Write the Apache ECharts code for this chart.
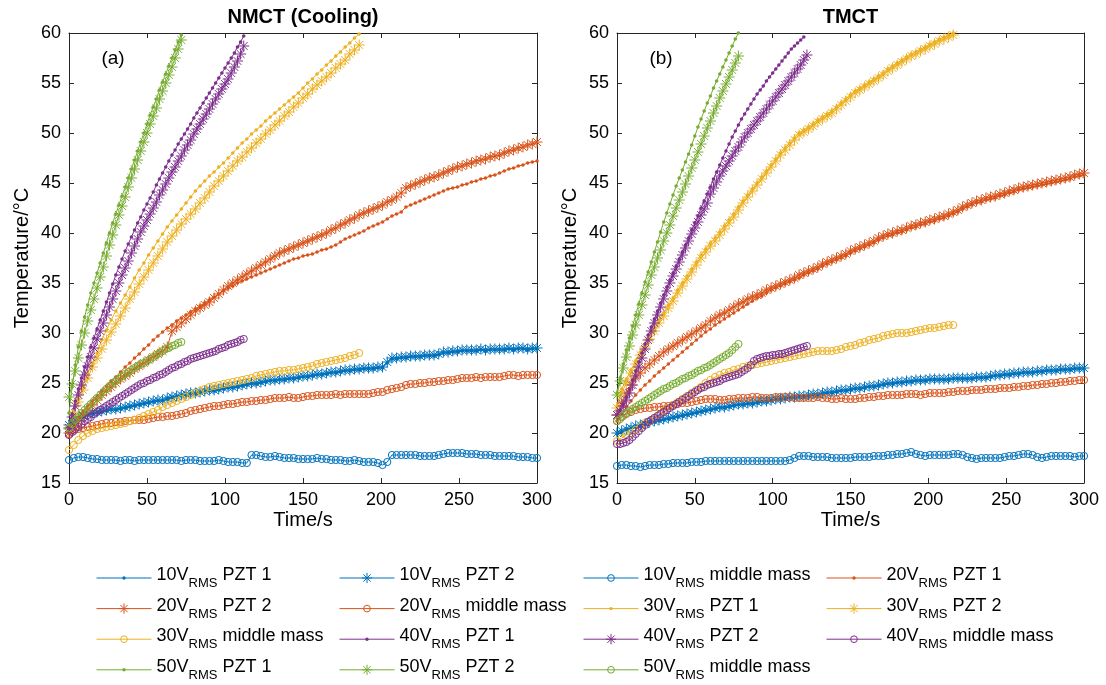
<!DOCTYPE html>
<html>
<head>
<meta charset="utf-8">
<title>Temperature rise of PZT and middle mass</title>
<script src="https://cdn.jsdelivr.net/npm/echarts@6/dist/echarts.min.js"></script>
<style>
  html, body { margin: 0; padding: 0; background: #fff; }
  #chart { width: 1106px; height: 685px; }
</style>
</head>
<body>
<div id="chart"></div>
<script>
// Sampling instants (s)
const T3 = [0,3,6,9,12,15,18,21,24,27,
  30,33,36,39,42,45,48,51,54,57,
  60,63,66,69,72,75,78,81,84,87,
  90,93,96,99,102,105,108,111,114,117,
  120,123,126,129,132,135,138,141,144,147,
  150,153,156,159,162,165,168,171,174,177,
  180,183,186,189,192,195,198,201,204,207,
  210,213,216,219,222,225,228,231,234,237,
  240,243,246,249,252,255,258,261,264,267,
  270,273,276,279,282,285,288,291,294,297,
  300];
const T2 = [0,2,4,6,8,10,12,14,16,18,
  20,22,24,26,28,30,32,34,36,38,
  40,42,44,46,48,50,52,54,56,58,
  60,62,64,66,68,70,72,74,76,78,
  80,82,84,86,88,90,92,94,96,98,
  100,102,104,106,108,110,112,114,116,118,
  120,122];

// ---------- (a) NMCT (Cooling), temperature in °C ----------
const nm10p1 = [20.6,21.0,21.4,21.6,21.8,21.9,22.0,22.1,22.2,22.3,
  22.3,22.4,22.5,22.6,22.7,22.8,22.9,23.0,23.1,23.2,
  23.2,23.4,23.5,23.6,23.7,23.8,23.9,23.9,24.0,24.1,
  24.2,24.2,24.3,24.4,24.5,24.5,24.6,24.7,24.8,24.9,
  24.9,25.0,25.1,25.2,25.2,25.3,25.3,25.4,25.4,25.5,
  25.6,25.6,25.7,25.8,25.8,25.9,26.0,26.0,26.1,26.2,
  26.2,26.3,26.3,26.4,26.4,26.4,26.5,26.5,27.0,27.4,
  27.4,27.5,27.5,27.6,27.6,27.6,27.7,27.7,27.7,27.8,
  28.0,28.0,28.1,28.1,28.2,28.2,28.2,28.2,28.3,28.2,
  28.3,28.3,28.3,28.3,28.4,28.3,28.4,28.4,28.3,28.4,
  28.4];
const nm10p2 = [20.8,21.2,21.5,21.7,21.9,22.0,22.1,22.2,22.3,22.4,
  22.4,22.5,22.6,22.7,22.8,22.9,23.0,23.1,23.2,23.3,
  23.3,23.5,23.6,23.7,23.8,23.9,24.0,24.0,24.1,24.2,
  24.3,24.3,24.4,24.5,24.6,24.6,24.7,24.8,24.9,25.0,
  25.0,25.1,25.2,25.3,25.3,25.4,25.4,25.5,25.5,25.6,
  25.7,25.7,25.8,25.9,25.9,26.0,26.1,26.1,26.2,26.3,
  26.3,26.4,26.4,26.5,26.5,26.5,26.6,26.6,27.1,27.5,
  27.5,27.6,27.6,27.7,27.7,27.7,27.8,27.8,27.8,27.9,
  28.1,28.1,28.2,28.2,28.3,28.3,28.3,28.3,28.4,28.3,
  28.4,28.4,28.4,28.4,28.5,28.4,28.5,28.5,28.4,28.5,
  28.5];
const nm10mm = [17.3,17.5,17.6,17.6,17.5,17.4,17.4,17.3,17.3,17.3,
  17.3,17.2,17.3,17.3,17.2,17.3,17.3,17.3,17.3,17.3,
  17.3,17.3,17.3,17.3,17.2,17.3,17.3,17.3,17.2,17.2,
  17.2,17.2,17.3,17.2,17.1,17.1,17.1,17.0,17.0,17.8,
  17.8,17.7,17.6,17.6,17.7,17.6,17.5,17.5,17.5,17.4,
  17.4,17.4,17.4,17.5,17.4,17.4,17.3,17.3,17.3,17.2,
  17.2,17.3,17.2,17.1,17.1,17.1,17.0,16.8,17.1,17.8,
  17.8,17.8,17.8,17.8,17.8,17.7,17.7,17.7,17.7,17.8,
  17.9,18.0,18.0,18.0,18.0,17.9,17.9,17.9,17.8,17.8,
  17.8,17.7,17.7,17.7,17.7,17.7,17.6,17.6,17.6,17.5,
  17.5];
const nm20p1 = [20.0,20.8,21.5,22.1,22.7,23.2,23.7,24.2,24.7,25.2,
  25.6,26.1,26.6,27.0,27.5,27.9,28.4,28.8,29.3,29.7,
  30.1,30.5,30.8,31.2,31.5,31.8,32.1,32.4,32.7,33.0,
  33.3,33.6,33.9,34.2,34.5,34.7,35.0,35.2,35.4,35.6,
  35.8,36.0,36.2,36.4,36.6,36.8,37.0,37.2,37.4,37.5,
  37.7,37.8,37.9,38.1,38.3,38.4,38.6,38.8,39.1,39.4,
  39.6,39.8,40.0,40.2,40.5,40.7,40.9,41.1,41.4,41.7,
  41.9,42.1,42.6,42.8,43.0,43.2,43.4,43.6,43.8,44.0,
  44.2,44.4,44.5,44.6,44.8,44.9,45.1,45.2,45.4,45.5,
  45.7,45.8,46.0,46.2,46.4,46.5,46.7,46.8,47.0,47.1,
  47.2];
const nm20p2 = [20.0,20.6,21.2,21.8,22.3,22.8,23.3,23.8,24.2,24.6,
  25.0,25.4,25.7,26.0,26.4,26.7,27.0,27.3,27.6,27.9,
  28.2,28.6,30.2,30.6,31.0,31.4,31.8,32.2,32.5,32.8,
  33.1,33.5,33.9,34.3,34.7,35.0,35.3,35.6,35.9,36.2,
  36.5,36.8,37.1,37.4,37.7,38.0,38.2,38.4,38.6,38.8,
  39.0,39.2,39.4,39.6,39.8,40.0,40.3,40.5,40.8,41.0,
  41.3,41.5,41.8,42.0,42.2,42.4,42.6,42.8,43.1,43.3,
  43.6,44.0,44.5,44.7,44.9,45.1,45.3,45.5,45.6,45.8,
  46.0,46.2,46.4,46.6,46.7,46.9,47.0,47.2,47.3,47.4,
  47.6,47.7,47.8,48.0,48.2,48.3,48.5,48.6,48.8,48.9,
  49.1];
const nm20mm = [19.9,20.2,20.4,20.5,20.6,20.7,20.8,20.9,21.0,21.0,
  21.1,21.1,21.2,21.2,21.3,21.3,21.3,21.4,21.5,21.6,
  21.6,21.7,21.7,21.8,21.9,22.0,22.2,22.3,22.4,22.5,
  22.6,22.7,22.7,22.8,22.9,22.9,23.0,23.1,23.1,23.2,
  23.2,23.3,23.3,23.4,23.5,23.5,23.5,23.6,23.5,23.5,
  23.6,23.7,23.7,23.8,23.8,23.8,23.8,23.9,23.8,23.9,
  23.9,23.9,23.9,23.9,23.9,24.0,24.1,24.1,24.3,24.4,
  24.5,24.6,24.8,24.9,24.9,25.0,25.0,25.1,25.1,25.2,
  25.2,25.3,25.3,25.4,25.5,25.5,25.5,25.6,25.5,25.6,
  25.6,25.6,25.6,25.7,25.8,25.8,25.7,25.8,25.8,25.8,
  25.8];
const nm30p1 = [20.6,22.1,23.4,24.7,26.0,27.0,28.0,29.3,30.3,31.3,
  32.2,33.0,33.8,34.6,35.5,36.3,37.0,37.8,38.5,39.2,
  39.9,40.6,41.2,41.8,42.4,43.0,43.6,44.2,44.7,45.2,
  45.7,46.1,46.6,47.0,47.5,48.0,48.5,49.0,49.4,49.9,
  50.3,50.7,51.2,51.6,52.0,52.4,52.8,53.2,53.6,54.0,
  54.5,55.0,55.4,55.9,56.3,56.8,57.2,57.7,58.1,58.6,
  59.0,59.5,59.9];
const nm30p2 = [20.4,21.8,23.1,24.3,25.5,26.6,27.5,28.4,29.3,30.1,
  30.9,31.7,32.5,33.4,34.1,34.9,35.6,36.3,37.0,37.7,
  38.4,39.1,39.7,40.3,40.9,41.4,41.9,42.4,43.0,43.5,
  44.1,44.7,45.2,45.7,46.2,46.7,47.2,47.6,48.1,48.5,
  49.0,49.4,49.9,50.3,50.8,51.2,51.7,52.1,52.6,53.0,
  53.5,53.9,54.4,54.8,55.2,55.6,56.0,56.5,56.9,57.3,
  57.9,58.3,58.8];
const nm30mm = [18.3,18.8,19.3,19.7,20.0,20.2,20.4,20.5,20.6,20.7,
  20.8,20.9,21.0,21.2,21.3,21.5,21.7,21.9,22.1,22.3,
  22.6,22.8,23.0,23.2,23.4,23.6,23.8,24.0,24.2,24.4,
  24.6,24.7,24.8,24.9,25.0,25.1,25.2,25.3,25.4,25.5,
  25.7,25.8,25.9,26.0,26.1,26.2,26.2,26.3,26.3,26.4,
  26.5,26.6,26.7,26.9,27.0,27.1,27.2,27.3,27.4,27.5,
  27.7,27.8,28.0];
const nm40p1 = [20.5,21.9,23.2,24.4,25.5,26.6,27.6,28.6,29.5,30.4,
  31.3,32.2,33.1,34.0,34.9,35.8,36.6,37.4,38.2,38.9,
  39.6,40.3,41.0,41.6,42.3,42.9,43.5,44.1,44.8,45.4,
  46.0,46.6,47.2,47.8,48.3,48.9,49.4,49.9,50.4,50.9,
  51.5,52.0,52.5,53.0,53.5,54.0,54.5,55.0,55.5,56.0,
  56.5,57.0,57.5,58.0,58.6,59.1,59.7];
const nm40p2 = [20.5,21.6,22.7,23.8,24.8,25.8,26.7,27.6,28.5,29.4,
  30.2,31.0,31.8,32.6,33.4,34.2,35.0,35.8,36.5,37.2,
  38.0,38.7,39.4,40.1,40.7,41.3,41.9,42.5,43.1,43.8,
  44.3,44.9,45.5,46.1,46.6,47.2,47.7,48.3,48.8,49.3,
  49.9,50.4,50.9,51.4,51.9,52.4,52.9,53.4,53.9,54.4,
  54.9,55.4,56.0,56.6,57.2,57.9,58.7];
const nm40mm = [19.8,20.1,20.4,20.6,20.9,21.2,21.4,21.6,21.9,22.1,
  22.3,22.5,22.7,22.9,23.1,23.3,23.5,23.7,23.9,24.1,
  24.3,24.5,24.7,24.9,25.0,25.2,25.3,25.5,25.6,25.8,
  25.9,26.1,26.3,26.5,26.6,26.8,26.9,27.1,27.2,27.4,
  27.5,27.6,27.7,27.8,27.9,28.0,28.1,28.2,28.4,28.5,
  28.6,28.8,28.9,29.0,29.1,29.3,29.4];
const nm50p1 = [22.0,24.6,26.8,28.6,30.2,31.6,32.8,34.0,35.0,36.0,
  37.0,38.0,39.0,40.0,41.0,41.9,42.8,43.7,44.6,45.5,
  46.4,47.3,48.2,49.1,50.0,50.9,51.8,52.6,53.4,54.3,
  55.1,55.9,56.7,57.5,58.3,59.1,59.8];
const nm50p2 = [23.6,24.9,26.2,27.5,28.8,30.0,31.2,32.3,33.4,34.5,
  35.6,36.6,37.7,38.8,39.8,40.8,41.8,42.7,43.6,44.6,
  45.5,46.4,47.3,48.2,49.1,50.0,50.9,51.7,52.5,53.4,
  54.2,55.0,55.8,56.6,57.5,58.4,59.3];
const nm50mm = [20.5,20.9,21.3,21.6,22.0,22.3,22.6,22.9,23.2,23.5,
  23.8,24.1,24.4,24.7,25.0,25.2,25.4,25.7,25.9,26.1,
  26.3,26.5,26.7,26.9,27.0,27.2,27.4,27.6,27.8,28.0,
  28.2,28.4,28.5,28.7,28.8,29.0,29.1];

// ---------- (b) TMCT, temperature in °C ----------
const tm10p1 = [19.9,20.1,20.3,20.4,20.6,20.7,20.8,21.0,21.1,21.2,
  21.3,21.4,21.5,21.6,21.7,21.8,21.9,22.0,22.1,22.2,
  22.3,22.4,22.5,22.5,22.6,22.7,22.8,22.8,22.9,22.9,
  23.0,23.1,23.1,23.2,23.3,23.3,23.4,23.5,23.5,23.6,
  23.6,23.7,23.8,23.8,23.9,24.0,24.0,24.1,24.2,24.2,
  24.3,24.4,24.4,24.5,24.6,24.6,24.7,24.8,24.9,24.9,
  25.0,25.0,25.1,25.1,25.2,25.2,25.2,25.3,25.3,25.3,
  25.3,25.3,25.4,25.4,25.4,25.4,25.4,25.5,25.5,25.5,
  25.6,25.7,25.7,25.8,25.8,25.9,25.9,26.0,26.0,26.0,
  26.1,26.1,26.2,26.2,26.2,26.3,26.3,26.3,26.4,26.4,
  26.4];
const tm10p2 = [20.0,20.2,20.4,20.5,20.7,20.8,20.9,21.1,21.2,21.3,
  21.4,21.5,21.6,21.7,21.8,21.9,22.0,22.1,22.2,22.3,
  22.4,22.5,22.6,22.6,22.7,22.8,22.9,22.9,23.0,23.0,
  23.1,23.2,23.2,23.3,23.4,23.4,23.5,23.6,23.6,23.7,
  23.7,23.8,23.9,23.9,24.0,24.1,24.1,24.2,24.3,24.3,
  24.4,24.5,24.5,24.6,24.7,24.7,24.8,24.9,25.0,25.0,
  25.1,25.1,25.2,25.2,25.3,25.3,25.3,25.4,25.4,25.4,
  25.4,25.4,25.5,25.5,25.5,25.5,25.5,25.6,25.6,25.6,
  25.7,25.8,25.8,25.9,25.9,26.0,26.0,26.1,26.1,26.1,
  26.2,26.2,26.3,26.3,26.3,26.4,26.4,26.4,26.5,26.5,
  26.5];
const tm10mm = [16.7,16.8,16.8,16.7,16.7,16.6,16.7,16.8,16.8,16.8,
  16.9,16.9,17.0,17.0,17.0,17.0,17.1,17.1,17.1,17.2,
  17.2,17.2,17.2,17.2,17.2,17.2,17.2,17.2,17.2,17.2,
  17.2,17.2,17.2,17.2,17.2,17.2,17.2,17.3,17.5,17.7,
  17.7,17.7,17.6,17.6,17.6,17.6,17.5,17.5,17.5,17.5,
  17.5,17.6,17.6,17.6,17.6,17.7,17.7,17.7,17.8,17.8,
  17.9,17.9,18.0,18.1,17.9,17.8,17.7,17.8,17.8,17.8,
  17.8,17.8,17.9,17.9,17.8,17.6,17.5,17.4,17.5,17.5,
  17.5,17.5,17.5,17.6,17.7,17.7,17.8,17.9,17.9,17.8,
  17.6,17.5,17.6,17.7,17.7,17.7,17.7,17.7,17.6,17.7,
  17.7];
const tm20p1 = [21.2,21.9,22.6,23.2,23.8,24.3,24.8,25.2,25.7,26.1,
  26.5,26.9,27.3,27.7,28.1,28.5,28.9,29.3,29.7,30.1,
  30.4,30.8,31.1,31.4,31.7,32.0,32.3,32.6,32.9,33.2,
  33.5,33.7,34.0,34.3,34.5,34.7,34.9,35.1,35.3,35.5,
  35.8,36.0,36.2,36.4,36.7,36.9,37.1,37.3,37.5,37.7,
  38.0,38.2,38.4,38.6,38.8,39.0,39.3,39.5,39.7,39.8,
  40.0,40.1,40.3,40.5,40.6,40.8,40.9,41.1,41.2,41.4,
  41.5,41.7,41.9,42.1,42.4,42.6,42.8,43.0,43.1,43.3,
  43.4,43.5,43.7,43.8,44.0,44.1,44.3,44.4,44.5,44.6,
  44.7,44.8,44.9,45.0,45.1,45.2,45.3,45.4,45.6,45.7,
  45.8];
const tm20p2 = [21.8,23.0,24.0,24.8,25.5,26.0,26.5,26.9,27.3,27.7,
  28.1,28.4,28.7,29.0,29.3,29.6,29.9,30.2,30.5,30.8,
  31.2,31.5,31.8,32.0,32.3,32.6,32.9,33.1,33.4,33.6,
  33.8,34.0,34.3,34.5,34.7,34.9,35.1,35.3,35.5,35.8,
  36.0,36.2,36.4,36.6,36.9,37.1,37.3,37.5,37.7,37.9,
  38.2,38.4,38.6,38.8,39.0,39.2,39.5,39.7,39.9,40.0,
  40.2,40.3,40.5,40.7,40.8,41.0,41.1,41.3,41.4,41.6,
  41.7,41.9,42.1,42.3,42.6,42.8,43.0,43.2,43.3,43.5,
  43.6,43.7,43.9,44.0,44.2,44.3,44.5,44.6,44.7,44.8,
  44.9,45.0,45.1,45.2,45.3,45.4,45.5,45.6,45.8,45.9,
  46.0];
const tm20mm = [21.2,21.6,21.9,22.1,22.3,22.4,22.5,22.5,22.6,22.6,
  22.7,22.7,22.8,22.9,23.0,23.0,23.1,23.2,23.3,23.4,
  23.4,23.4,23.3,23.3,23.4,23.4,23.5,23.5,23.5,23.6,
  23.6,23.5,23.5,23.5,23.6,23.6,23.6,23.6,23.5,23.5,
  23.5,23.5,23.5,23.6,23.5,23.5,23.4,23.4,23.5,23.4,
  23.4,23.4,23.5,23.5,23.6,23.6,23.7,23.7,23.8,23.8,
  23.8,23.8,23.9,23.9,23.9,23.8,23.9,24.0,24.0,24.0,
  24.0,24.1,24.1,24.2,24.2,24.2,24.3,24.3,24.3,24.4,
  24.4,24.4,24.5,24.5,24.5,24.6,24.6,24.7,24.7,24.8,
  24.8,24.9,24.9,25.0,25.0,25.1,25.1,25.2,25.2,25.3,
  25.3];
const tm30p1 = [22.7,24.4,25.4,26.3,27.2,28.1,28.9,29.7,30.5,31.3,
  32.0,32.8,33.5,34.3,35.0,35.7,36.4,37.1,37.8,38.4,
  39.0,39.5,40.1,40.7,41.3,41.9,42.6,43.2,43.8,44.4,
  45.0,45.6,46.2,46.8,47.4,48.0,48.5,49.0,49.5,50.0,
  50.3,50.6,50.9,51.3,51.6,51.9,52.2,52.6,53.0,53.4,
  53.8,54.2,54.5,54.8,55.1,55.4,55.7,56.0,56.4,56.7,
  57.0,57.3,57.6,57.9,58.1,58.4,58.6,58.9,59.1,59.4,
  59.6,59.8,60.0];
const tm30p2 = [22.5,24.0,25.0,26.0,26.9,27.8,28.6,29.4,30.2,31.0,
  31.7,32.5,33.2,34.0,34.7,35.4,36.1,36.8,37.5,38.1,
  38.7,39.2,39.8,40.4,41.0,41.6,42.3,43.0,43.6,44.2,
  44.8,45.4,46.0,46.6,47.2,47.8,48.3,48.8,49.3,49.8,
  50.1,50.4,50.7,51.1,51.4,51.7,52.0,52.4,52.8,53.2,
  53.6,54.0,54.3,54.6,54.9,55.2,55.5,55.8,56.2,56.5,
  56.8,57.1,57.4,57.7,57.9,58.2,58.4,58.7,58.9,59.2,
  59.4,59.6,59.8];
const tm30mm = [19.2,19.5,19.8,20.0,20.3,20.6,21.0,21.2,21.5,21.8,
  22.2,22.5,22.8,23.1,23.4,23.7,24.0,24.3,24.6,25.0,
  25.3,25.6,25.8,26.0,26.1,26.3,26.4,26.6,26.7,26.8,
  26.9,27.0,27.1,27.2,27.3,27.4,27.5,27.6,27.7,27.8,
  27.9,28.0,28.1,28.2,28.2,28.2,28.2,28.3,28.4,28.6,
  28.7,28.8,29.0,29.1,29.3,29.4,29.5,29.7,29.8,29.9,
  30.0,30.0,30.0,30.1,30.2,30.3,30.4,30.5,30.5,30.6,
  30.7,30.8,30.8];
const tm40p1 = [21.8,22.3,22.9,23.6,24.4,25.3,26.2,27.1,28.0,28.9,
  29.8,30.6,31.4,32.2,33.0,33.8,34.6,35.3,36.0,36.7,
  37.4,38.1,38.8,39.5,40.3,41.0,41.7,42.5,43.2,43.9,
  44.6,45.4,46.1,46.8,47.5,48.2,48.9,49.6,50.2,50.8,
  51.4,51.9,52.4,52.9,53.4,53.9,54.3,54.7,55.2,55.6,
  56.0,56.4,56.8,57.2,57.6,58.0,58.4,58.7,59.0,59.3,
  59.6];
const tm40p2 = [21.8,22.2,22.7,23.3,24.0,24.8,25.7,26.6,27.5,28.4,
  29.3,30.2,31.0,31.8,32.6,33.4,34.2,35.0,35.7,36.4,
  37.1,37.8,38.5,39.2,39.9,40.5,41.1,41.8,42.4,43.0,
  43.9,44.5,45.1,45.7,46.2,46.7,47.2,47.7,48.2,48.6,
  49.1,49.6,50.0,50.4,50.8,51.2,51.6,52.0,52.4,52.8,
  53.2,53.6,54.0,54.4,54.8,55.2,55.6,56.0,56.4,56.8,
  57.3,57.8];
const tm40mm = [18.9,18.9,19.0,19.1,19.3,19.6,19.9,20.2,20.5,20.8,
  21.1,21.3,21.5,21.7,21.9,22.1,22.3,22.5,22.7,22.9,
  23.1,23.3,23.5,23.7,23.9,24.1,24.3,24.5,24.6,24.8,
  24.9,25.0,25.1,25.2,25.4,25.5,25.6,25.7,25.8,25.9,
  26.1,26.3,26.5,26.8,27.2,27.4,27.5,27.6,27.7,27.7,
  27.8,27.8,27.9,27.9,28.0,28.1,28.2,28.3,28.4,28.5,
  28.6,28.7];
const tm50p1 = [24.0,25.5,26.9,28.3,29.5,30.7,31.8,32.9,34.0,35.1,
  36.1,37.1,38.1,39.1,40.1,41.1,42.0,42.9,43.8,44.7,
  45.5,46.3,47.1,47.9,48.8,49.7,50.6,51.4,52.2,53.0,
  53.7,54.5,55.2,55.9,56.6,57.3,58.0,58.7,59.4,60.0];
const tm50p2 = [23.8,25.2,26.5,27.6,28.7,29.8,30.8,31.8,32.8,33.8,
  34.8,35.8,36.6,37.5,38.3,39.2,40.0,40.8,41.7,42.5,
  43.3,44.1,44.9,45.7,46.5,47.3,48.1,48.9,49.7,50.5,
  51.2,52.0,52.7,53.5,54.2,54.9,55.6,56.3,57.0,57.7];
const tm50mm = [21.2,21.4,21.7,22.0,22.2,22.4,22.6,22.8,23.0,23.2,
  23.4,23.6,23.8,24.0,24.2,24.4,24.5,24.7,24.9,25.0,
  25.2,25.4,25.5,25.7,25.8,26.0,26.2,26.3,26.5,26.6,
  26.8,27.0,27.2,27.4,27.6,27.8,28.0,28.3,28.6,28.9];

// Axis ticks
const xTicks = { min: 0, max: 300, step: 50 };
const yTicks = { min: 15, max: 60, step: 5 };

// Drive voltages, measuring points, panels
const volts = ['10V', '20V', '30V', '40V', '50V'];
const points = ['PZT 1', 'PZT 2', 'middle mass'];
const panelTitles = ['NMCT (Cooling)', 'TMCT'];
const panelTags = ['(a)', '(b)'];

const panelData = [
  { '10V': [[T3, nm10p1], [T3, nm10p2], [T3, nm10mm]],
    '20V': [[T3, nm20p1], [T3, nm20p2], [T3, nm20mm]],
    '30V': [[T3, nm30p1], [T3, nm30p2], [T3, nm30mm]],
    '40V': [[T2, nm40p1], [T2, nm40p2], [T2, nm40mm]],
    '50V': [[T2, nm50p1], [T2, nm50p2], [T2, nm50mm]] },
  { '10V': [[T3, tm10p1], [T3, tm10p2], [T3, tm10mm]],
    '20V': [[T3, tm20p1], [T3, tm20p2], [T3, tm20mm]],
    '30V': [[T3, tm30p1], [T3, tm30p2], [T3, tm30mm]],
    '40V': [[T2, tm40p1], [T2, tm40p2], [T2, tm40mm]],
    '50V': [[T2, tm50p1], [T2, tm50p2], [T2, tm50mm]] }
];

// ---------- styling ----------
const FONT = '"Liberation Sans", Arial, Helvetica, sans-serif';
const INK = '#262626';
const voltColor = { '10V': '#0072BD', '20V': '#D95319', '30V': '#EDB120', '40V': '#7E2F8E', '50V': '#77AC30' };

// Marker glyphs drawn inside a common 12x12 frame so that all of them
// share one symbol size while keeping their own visual extent.
const FRAME = 'M0 0M12 12';
const markerPath = {
  'PZT 1': 'path://' + FRAME + 'M7.8 6A1.8 1.8 0 1 1 4.2 6A1.8 1.8 0 1 1 7.8 6Z',
  'PZT 2': 'path://' + FRAME + 'M6 0.5L6 11.5M0.5 6L11.5 6M2.1 2.1L9.9 9.9M9.9 2.1L2.1 9.9',
  'middle mass': 'path://' + FRAME + 'M9.6 6A3.6 3.6 0 1 1 2.4 6A3.6 3.6 0 1 1 9.6 6Z'
};
function markerStyle(point, c) {
  if (point === 'PZT 1') return { color: c, borderWidth: 0, opacity: 1 };
  return { color: 'rgba(0,0,0,0)', borderColor: c, borderWidth: 1, opacity: 1 };
}

const seriesName = (v, p) => v + ' ' + p;

const series = [];
panelData.forEach((panel, pi) => {
  volts.forEach(v => {
    points.forEach((p, k) => {
      const [t, vals] = panel[v][k];
      const c = voltColor[v];
      series.push({
        type: 'line',
        name: seriesName(v, p),
        xAxisIndex: pi * 2,
        yAxisIndex: pi * 2,
        data: vals.map((y, i) => [t[i], y]),
        symbol: markerPath[p],
        symbolSize: 12,
        showSymbol: true,
        showAllSymbol: true,
        itemStyle: markerStyle(p, c),
        lineStyle: { color: c, width: 1 },
        emphasis: { disabled: true },
        silent: true,
        clip: true
      });
    });
  });
});

// Legend: 15 entries in 4 columns, row-major order
const legendNames = [];
volts.forEach(v => points.forEach(p => legendNames.push(seriesName(v, p))));
const legendCols = [96, 339, 583, 826];
const legends = legendCols.map((x, col) => ({
  orient: 'vertical',
  left: x,
  top: 561,
  padding: 0,
  itemWidth: 55,
  itemHeight: 14,
  itemGap: 1.6,
  selectedMode: false,
  data: legendNames.filter((_, i) => i % 4 === col).map(n => {
    const v = n.slice(0, 3), p = n.slice(4);
    return {
      name: n,
      itemStyle: markerStyle(p, voltColor[v]),
      lineStyle: { color: voltColor[v], width: 1 }
    };
  }),
  formatter: n => '{n|' + n.slice(0, 3) + '}{s|RMS}{n|' + n.slice(3) + '}',
  textStyle: {
    fontFamily: FONT,
    color: '#000',
    rich: {
      n: { fontFamily: FONT, fontSize: 18, color: '#000', lineHeight: 24, verticalAlign: 'top' },
      s: { fontFamily: FONT, fontSize: 13, color: '#000', lineHeight: 14, padding: [16, 0, 0, 0], verticalAlign: 'bottom' }
    }
  }
}));

// Axes: each panel is boxed, ticks point inward on all four sides
const grids = [
  { left: 69, top: 33, width: 468, height: 450 },
  { left: 617, top: 33, width: 467, height: 450 }
];
const lineSty = { color: INK, width: 1 };
const xAxes = [], yAxes = [];
grids.forEach((g, gi) => {
  ['bottom', 'top'].forEach(pos => {
    const main = pos === 'bottom';
    xAxes.push({
      gridIndex: gi, type: 'value', position: pos,
      min: xTicks.min, max: xTicks.max, interval: xTicks.step,
      name: main ? 'Time/s' : '', nameLocation: 'middle', nameGap: 27, nameMoveOverlap: false,
      nameTextStyle: { fontFamily: FONT, fontSize: 20, color: '#000' },
      axisLine: { show: true, onZero: false, lineStyle: lineSty },
      axisTick: { show: true, inside: true, length: 5, lineStyle: lineSty },
      axisLabel: { show: main, fontFamily: FONT, fontSize: 18, color: '#000', margin: 8 },
      splitLine: { show: false }
    });
  });
  ['left', 'right'].forEach(pos => {
    const main = pos === 'left';
    yAxes.push({
      gridIndex: gi, type: 'value', position: pos,
      min: yTicks.min, max: yTicks.max, interval: yTicks.step,
      name: main ? 'Temperature/°C' : '', nameLocation: 'middle', nameGap: 37, nameMoveOverlap: false,
      nameTextStyle: { fontFamily: FONT, fontSize: 20, color: '#000' },
      axisLine: { show: true, onZero: false, lineStyle: lineSty },
      axisTick: { show: true, inside: true, length: 5, lineStyle: lineSty },
      axisLabel: { show: main, fontFamily: FONT, fontSize: 18, color: '#000', margin: 8 },
      splitLine: { show: false }
    });
  });
});

// Panel titles and tags
const graphics = [];
grids.forEach((g, gi) => {
  graphics.push({
    type: 'text', x: g.left + g.width / 2, y: 17, silent: true,
    style: { text: panelTitles[gi], font: 'bold 20px ' + FONT, fill: '#000', align: 'center', verticalAlign: 'middle' }
  });
  graphics.push({
    type: 'text', x: g.left + 44, y: 59, silent: true,
    style: { text: panelTags[gi], font: '19px ' + FONT, fill: '#000', align: 'center', verticalAlign: 'middle' }
  });
});

const chart = echarts.init(document.getElementById('chart'), null, { renderer: 'canvas' });
chart.setOption({
  animation: false,
  backgroundColor: '#fff',
  textStyle: { fontFamily: FONT },
  grid: grids.map(g => Object.assign({ containLabel: false, outerBoundsMode: 'none' }, g)),
  xAxis: xAxes,
  yAxis: yAxes,
  legend: legends,
  graphic: graphics,
  series: series
});
</script>
</body>
</html>
